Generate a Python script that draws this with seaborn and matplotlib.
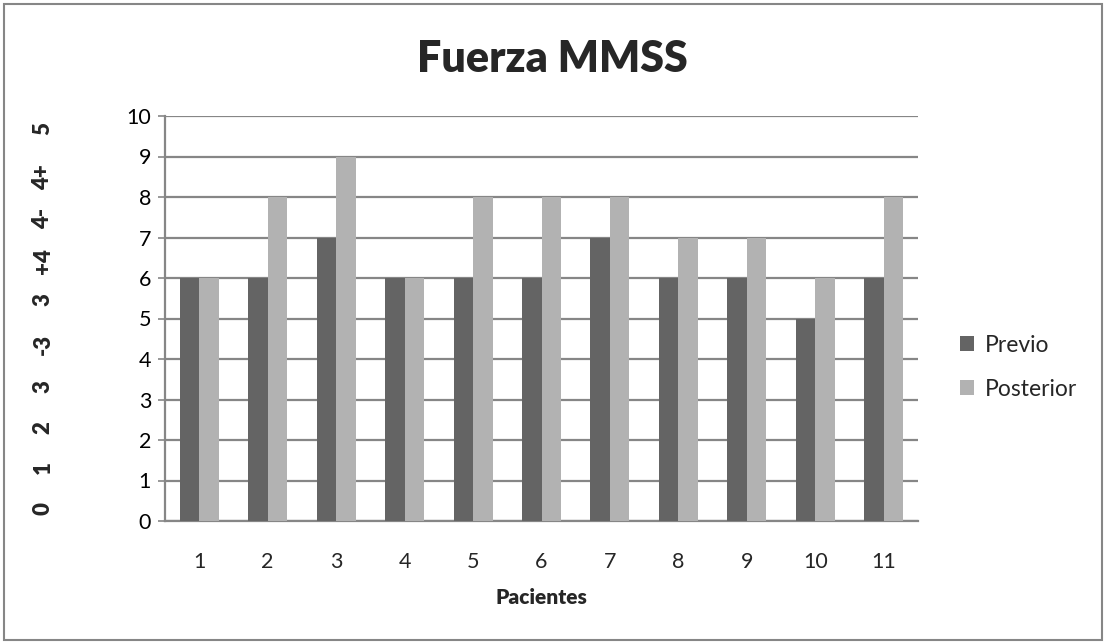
import matplotlib
matplotlib.use("Agg")
import matplotlib.pyplot as plt
import seaborn as sns
import pandas as pd
from matplotlib.patches import Rectangle

pacientes = ["1", "2", "3", "4", "5", "6", "7", "8", "9", "10", "11"]
previo = [6, 6, 7, 6, 6, 6, 7, 6, 6, 5, 6]
posterior = [6, 8, 9, 6, 8, 8, 8, 7, 7, 6, 8]
series = ["Previo", "Posterior"]
colores = ["#646464", "#b2b2b2"]
escala = ["0", "1", "2", "3", "-3", "3", "+4", "4-", "4+", "5"]
escala_pos = [0.32, 1.31, 2.30, 3.33, 4.37, 5.46, 6.42, 7.46, 8.49, 9.70]

df = pd.DataFrame({
    "Pacientes": pacientes * 2,
    "Valor": previo + posterior,
    "Serie": [series[0]] * len(pacientes) + [series[1]] * len(pacientes),
})

sns.set_theme(style="white")
plt.rcParams["font.family"] = ["Lato", "DejaVu Sans"]

fig = plt.figure(figsize=(11.06, 6.43), dpi=100)
ax = fig.add_axes([165 / 1106, 1 - 521 / 643, 753 / 1106, 405 / 643])

sns.barplot(data=df, x="Pacientes", y="Valor", hue="Serie", order=pacientes,
            hue_order=series, palette=colores, width=0.57, saturation=1,
            edgecolor="none", linewidth=0, ax=ax, zorder=3)

ax.set_ylim(0, 10)
ax.set_yticks(range(0, 11))
ax.set_xlim(-0.5, len(pacientes) - 0.5)
ax.yaxis.grid(True, color="#868686", linewidth=1.6, zorder=0)
ax.set_axisbelow(True)
for side in ["top", "right"]:
    ax.spines[side].set_visible(False)
ax.spines["left"].set_color("#868686")
ax.spines["left"].set_linewidth(1.6)
ax.spines["bottom"].set_color("#868686")
ax.spines["bottom"].set_linewidth(1.6)
ax.tick_params(axis="y", left=True, length=5, width=1.2, color="#868686",
               labelsize=15.5, pad=5, colors="#868686", labelcolor="black")
ax.tick_params(axis="x", bottom=False, labelsize=15.5, pad=16)

ax.set_xlabel("Pacientes", fontsize=15, fontweight="heavy", labelpad=12)
ax.set_ylabel("")
for txt, y in zip(escala, escala_pos):
    ax.text(-0.162, y, txt, transform=ax.get_yaxis_transform(), rotation=90,
            ha="center", va="center", fontsize=16, fontweight="heavy")

fig.suptitle("Fuerza MMSS", x=(165 + 918) / 2 / 1106 + 0.01, y=1 - 39 / 643,
             fontsize=31, fontweight="heavy", va="top")

handles, labels = ax.get_legend_handles_labels()
ax.legend(handles, labels, loc="center left", bbox_to_anchor=(1.029, 0.38),
          frameon=False, fontsize=16.5, handlelength=0.6, handleheight=0.6,
          handletextpad=0.45, labelspacing=1.0)

fig.patches.append(Rectangle((0.004, 0.004), 0.992, 0.99, transform=fig.transFigure,
                             fill=False, edgecolor="#868686", linewidth=1.5))

fig.savefig("out.png", dpi=100)
